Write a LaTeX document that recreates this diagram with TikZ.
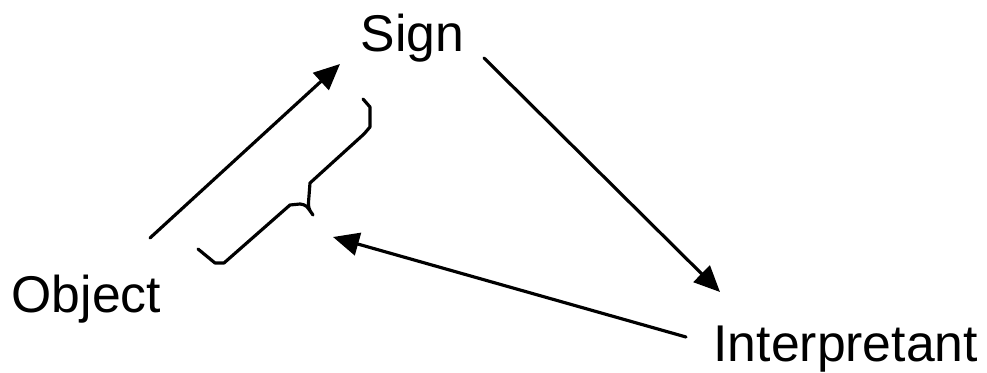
\documentclass[tikz,border=0pt]{standalone}
\usepackage{fontspec}
\setmainfont{Liberation Sans}
\usetikzlibrary{arrows.meta}
\begin{document}
\begin{tikzpicture}[x=0.01cm, y=-0.01cm, line width=0.9pt, line join=round, line cap=round,
	word/.style={anchor=base west, inner sep=0pt, font=\fontsize{14.7}{18}\selectfont},
	arr/.style={-{Triangle[length=0.26cm, width=0.23cm]}}]
	\useasboundingbox (0,0) rectangle (987,373);
	\node[word] (sign) at (359,52) {Sign};
	\node[word] (object) at (10,313) {Object};
	\node[word] (interp) at (712,362) {Interpretant};
	\coordinate (o1) at (150,238);
	\coordinate (s1) at (340,64);
	\coordinate (s2) at (484,58);
	\coordinate (i1) at (720,292);
	\coordinate (i2) at (686,337);
	\coordinate (tip) at (333,237);
	\draw[arr] (o1) -- (s1);
	\draw[arr] (s2) -- (i1);
	\draw[arr] (i2) -- (tip);
	\draw (198,249) -- (215,263) -- (224,263) -- (290,205) -- (300,204) .. controls (306,205) .. (313,215)
		.. controls (308,208) .. (309,196) -- (310,183) -- (364,134) -- (370,127) -- (370,107) -- (363,99);
\end{tikzpicture}
\end{document}
